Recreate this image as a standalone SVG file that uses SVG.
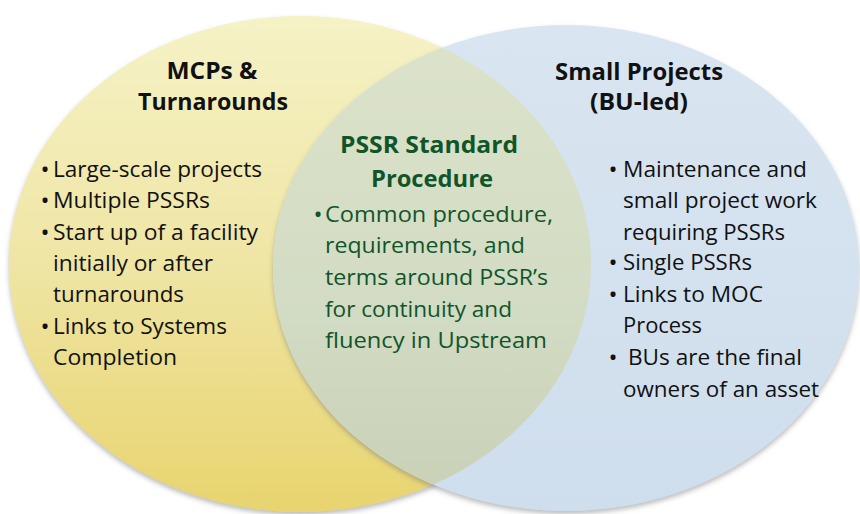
<svg xmlns="http://www.w3.org/2000/svg" width="860" height="514" viewBox="0 0 860 514">
  <defs>
    <linearGradient id="gYellow" x1="0" y1="0" x2="0" y2="1">
      <stop offset="0" stop-color="#f5f2c6"/>
      <stop offset="0.5" stop-color="#efe5a4"/>
      <stop offset="1" stop-color="#e8d46e"/>
    </linearGradient>
    <linearGradient id="gBlue" x1="0" y1="0" x2="0" y2="1">
      <stop offset="0" stop-color="#d9e5f0"/>
      <stop offset="1" stop-color="#cfdeed"/>
    </linearGradient>
    <linearGradient id="gOverlap" x1="0" y1="0" x2="0" y2="1">
      <stop offset="0" stop-color="#dde3cb"/>
      <stop offset="0.6" stop-color="#d2dbc3"/>
      <stop offset="1" stop-color="#c8d1b6"/>
    </linearGradient>
    <clipPath id="clipLeft">
      <ellipse cx="300" cy="264" rx="291" ry="248"/>
    </clipPath>
    <filter id="shadow" x="-10%" y="-10%" width="120%" height="125%">
      <feGaussianBlur in="SourceAlpha" stdDeviation="2.5"/>
      <feOffset dx="0" dy="2.5" result="b"/>
      <feFlood flood-color="#7a7a7a" flood-opacity="0.5"/>
      <feComposite in2="b" operator="in"/>
      <feMerge>
        <feMergeNode/>
        <feMergeNode in="SourceGraphic"/>
      </feMerge>
    </filter>
  </defs>
  <style>
    .body { font-family: "Open Sans", "Liberation Sans", sans-serif; font-size: 22px; fill: #111111; }
    .title { font-family: "Open Sans", "Liberation Sans", sans-serif; font-size: 23.5px; font-weight: bold; fill: #111111; text-anchor: middle; }
    .green { fill: #10552a; }
    .bul { text-anchor: middle; font-size: 24px; }
  </style>
  <rect width="860" height="514" fill="#ffffff"/>

  <g id="node-mcps">
    <ellipse cx="300" cy="264" rx="291" ry="248" fill="url(#gYellow)" filter="url(#shadow)"/>
  </g>
  <g id="node-small">
    <ellipse cx="566" cy="268" rx="293" ry="243" fill="url(#gBlue)" filter="url(#shadow)"/>
  </g>
  <g id="node-pssr">
    <ellipse cx="566" cy="268" rx="293" ry="243" fill="url(#gOverlap)" clip-path="url(#clipLeft)"/>
  </g>
  <g id="connectors"/>

  <g id="text-mcps">
    <text class="title" x="212" y="79" textLength="91" lengthAdjust="spacingAndGlyphs">MCPs &amp;</text>
    <text class="title" x="213" y="110" textLength="150" lengthAdjust="spacingAndGlyphs">Turnarounds</text>
    <text class="body bul" x="45" y="178">•</text>
    <text class="body" x="53" y="177" textLength="209" lengthAdjust="spacingAndGlyphs">Large-scale projects</text>
    <text class="body bul" x="45" y="209">•</text>
    <text class="body" x="53" y="208" textLength="157" lengthAdjust="spacingAndGlyphs">Multiple PSSRs</text>
    <text class="body bul" x="45" y="241">•</text>
    <text class="body" x="53" y="240" textLength="205" lengthAdjust="spacingAndGlyphs">Start up of a facility</text>
    <text class="body" x="53" y="271" textLength="160" lengthAdjust="spacingAndGlyphs">initially or after</text>
    <text class="body" x="53" y="302" textLength="131" lengthAdjust="spacingAndGlyphs">turnarounds</text>
    <text class="body bul" x="45" y="335">•</text>
    <text class="body" x="53" y="334" textLength="174" lengthAdjust="spacingAndGlyphs">Links to Systems</text>
    <text class="body" x="53" y="365" textLength="124" lengthAdjust="spacingAndGlyphs">Completion</text>
  </g>

  <g id="text-pssr">
    <text class="title green" x="429" y="153" textLength="178" lengthAdjust="spacingAndGlyphs">PSSR Standard</text>
    <text class="title green" x="432" y="187" textLength="122" lengthAdjust="spacingAndGlyphs">Procedure</text>
    <text class="body green bul" x="318" y="223">•</text>
    <text class="body green" x="325" y="222" textLength="228" lengthAdjust="spacingAndGlyphs">Common procedure,</text>
    <text class="body green" x="325" y="253" textLength="200" lengthAdjust="spacingAndGlyphs">requirements, and</text>
    <text class="body green" x="325" y="285" textLength="223" lengthAdjust="spacingAndGlyphs">terms around PSSR’s</text>
    <text class="body green" x="325" y="317" textLength="187" lengthAdjust="spacingAndGlyphs">for continuity and</text>
    <text class="body green" x="325" y="348" textLength="222" lengthAdjust="spacingAndGlyphs">fluency in Upstream</text>
  </g>

  <g id="text-small">
    <text class="title" x="639" y="80" textLength="168" lengthAdjust="spacingAndGlyphs">Small Projects</text>
    <text class="title" x="639" y="110" textLength="98" lengthAdjust="spacingAndGlyphs">(BU-led)</text>
    <text class="body bul" x="613" y="178">•</text>
    <text class="body" x="623" y="177" textLength="184" lengthAdjust="spacingAndGlyphs">Maintenance and</text>
    <text class="body" x="623" y="208" textLength="194" lengthAdjust="spacingAndGlyphs">small project work</text>
    <text class="body" x="623" y="240" textLength="162" lengthAdjust="spacingAndGlyphs">requiring PSSRs</text>
    <text class="body bul" x="613" y="271">•</text>
    <text class="body" x="623" y="270" textLength="129" lengthAdjust="spacingAndGlyphs">Single PSSRs</text>
    <text class="body bul" x="613" y="303">•</text>
    <text class="body" x="623" y="302" textLength="140" lengthAdjust="spacingAndGlyphs">Links to MOC</text>
    <text class="body" x="623" y="333" textLength="79" lengthAdjust="spacingAndGlyphs">Process</text>
    <text class="body bul" x="613" y="366">•</text>
    <text class="body" x="628" y="365" textLength="174" lengthAdjust="spacingAndGlyphs">BUs are the final</text>
    <text class="body" x="623" y="397" textLength="196" lengthAdjust="spacingAndGlyphs">owners of an asset</text>
  </g>
</svg>
